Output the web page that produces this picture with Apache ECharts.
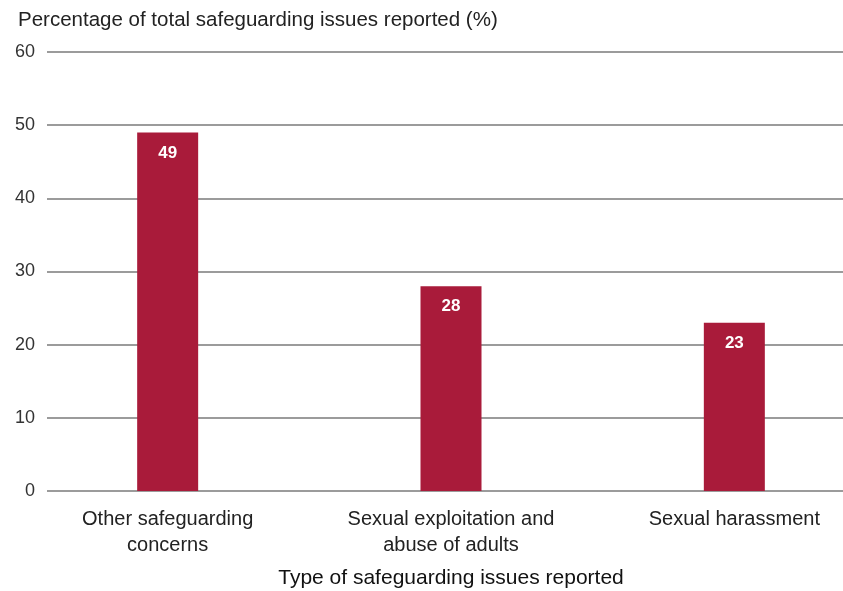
<!DOCTYPE html>
<html lang="en">
<head>
    <meta charset="UTF-8">
    <title>Safeguarding issues</title>
    <script src="https://cdn.jsdelivr.net/npm/echarts@6/dist/echarts.min.js"></script>
    <style>
        body { margin: 0; background: #fff; }
    </style>
</head>
<body>
<div id="dom" style="width: 843px;height: 591px"></div>
<script>
    var categories = ['Other safeguarding\nconcerns', 'Sexual exploitation and\nabuse of adults', 'Sexual harassment'];
    var values = [49, 28, 23];
    var yTicks = [0, 10, 20, 30, 40, 50, 60];

    var font = 'Liberation Sans, Arial, sans-serif';
    var dom = document.getElementById("dom");
    var myCharts = echarts.init(dom);
    var option = {
        animation: false,
        title: {
            text: 'Percentage of total safeguarding issues reported (%)',
            left: 13,
            top: 5,
            textStyle: { fontFamily: font, fontSize: 20.5, fontWeight: 'normal', color: '#222' }
        },
        grid: [
            // grid for the gridlines + y labels
            { left: 47, right: 0, top: 52, bottom: 100, outerBoundsMode: 'none' },
            // grid for the bars and category labels (wider than the canvas on the right)
            { left: 26, width: 850, top: 52, bottom: 100, outerBoundsMode: 'none' }
        ],
        xAxis: [
            { type: 'value', gridIndex: 0, show: false },
            {
                type: 'category',
                gridIndex: 1,
                data: categories,
                axisLine: { show: false },
                axisTick: { show: false },
                axisLabel: { fontFamily: font, fontSize: 20, color: '#222', margin: 15, lineHeight: 26 },
                name: 'Type of safeguarding issues reported',
                nameLocation: 'middle',
                nameGap: 77,
                nameTextStyle: { fontFamily: font, fontSize: 21, color: '#111' }
            }
        ],
        yAxis: [
            {
                type: 'value',
                gridIndex: 0,
                min: yTicks[0],
                max: yTicks[yTicks.length - 1],
                interval: 10,
                axisLine: { show: false },
                axisTick: { show: false },
                axisLabel: { fontFamily: font, fontSize: 18, color: '#333', margin: 12 },
                splitLine: { lineStyle: { color: '#7a7a7a', width: 1.5 } }
            },
            {
                type: 'value',
                gridIndex: 1,
                min: yTicks[0],
                max: yTicks[yTicks.length - 1],
                show: false
            }
        ],
        series: [
            {
                type: 'bar',
                xAxisIndex: 1,
                yAxisIndex: 1,
                data: values,
                barWidth: 61,
                itemStyle: { color: '#a91b3a' },
                label: {
                    show: true,
                    position: 'insideTop',
                    distance: 12,
                    color: '#fff',
                    fontFamily: font,
                    fontSize: 17,
                    fontWeight: 'bold'
                }
            }
        ]
    };
    myCharts.setOption(option);
</script>
</body>
</html>
